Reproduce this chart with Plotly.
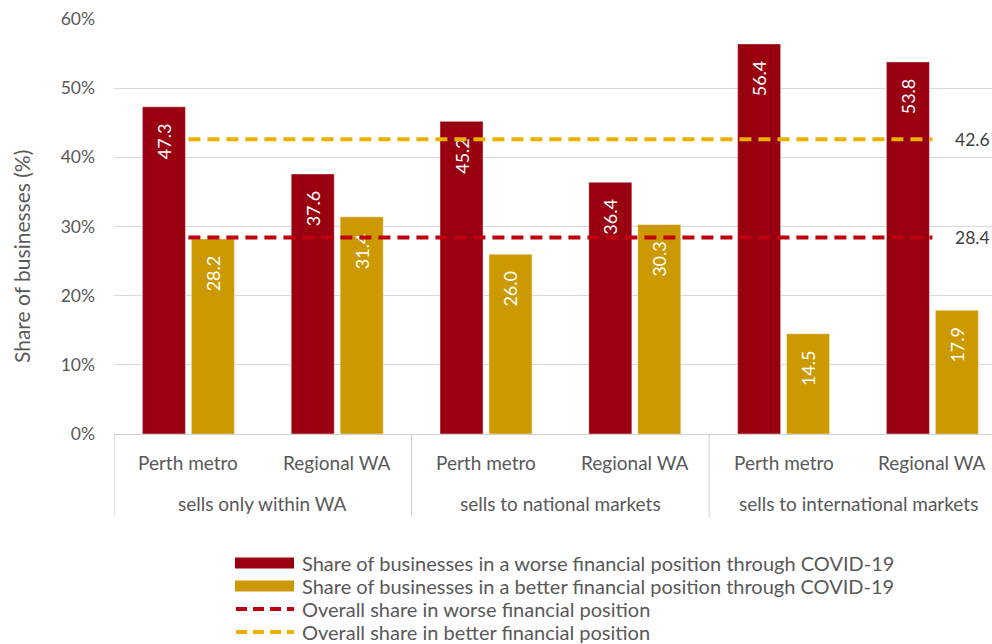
import plotly.graph_objects as go

groups = ["sells only within WA", "sells to national markets", "sells to international markets"]
regions = ["Perth metro", "Regional WA", "Perth metro", "Regional WA", "Perth metro", "Regional WA"]
worse = [47.3, 37.6, 45.2, 36.4, 56.4, 53.8]
better = [28.2, 31.4, 26.0, 30.3, 14.5, 17.9]
overall_worse = 28.4
overall_better = 42.6
y_ticks = [0, 10, 20, 30, 40, 50, 60]
y_title = "Share of businesses (%)"
legend_names = [
    "Share of businesses in a worse financial position through COVID-19",
    "Share of businesses in a better financial position through COVID-19",
    "Overall share in worse financial position",
    "Overall share in better financial position",
]

RED = "#990010"
GOLD = "#CC9A00"
RED_LINE = "#BE0010"
GOLD_LINE = "#EBB000"
TXT = "#595959"
FONT = "Lato"

W, H = 992, 644
L, T, B_PX = 114, 19, 434
PH = B_PX - T
PW = W - L
CAT = 148.8

def px_x(px):
    return (px - L) / PW

def px_y(py):
    return (B_PX - py) / PH

xs = list(range(len(regions)))
PAD = "\u00a0\u00a0\u00a0"

fig = go.Figure()
for vals, col, nm in ((worse, RED, legend_names[0]), (better, GOLD, legend_names[1])):
    fig.add_trace(go.Bar(x=xs, y=vals, name=nm, marker_color=col,
                         marker_line=dict(color="rgba(255,255,255,0.45)", width=1),
                         text=[f"{v:.1f}" + PAD for v in vals], textposition="inside",
                         insidetextanchor="end", textangle=-90,
                         textfont=dict(color="white", size=18, family=FONT),
                         constraintext="none", showlegend=False))
fig.add_trace(go.Scatter(x=[xs[0], xs[-1]], y=[overall_worse] * 2, mode="lines",
                         line=dict(color=RED_LINE, width=4, dash="12px,7px"),
                         name=legend_names[2], showlegend=False))
fig.add_trace(go.Scatter(x=[xs[0], xs[-1]], y=[overall_better] * 2, mode="lines",
                         line=dict(color=GOLD_LINE, width=4, dash="12px,7px"),
                         name=legend_names[3], showlegend=False))

shapes = []
annotations = []

# y axis title
annotations.append(dict(x=px_x(21), y=px_y(257), xref="paper", yref="paper", text=y_title,
                        textangle=-90, showarrow=False, xanchor="center", yanchor="middle",
                        font=dict(size=21, color=TXT, family=FONT)))

# line value labels
for v in (overall_better, overall_worse):
    annotations.append(dict(x=xs[-1], y=v, xref="x", yref="y", text=f"{v:.1f}",
                            showarrow=False, xanchor="left", yanchor="middle", xshift=21,
                            font=dict(size=17.5, color="#404040", family=FONT)))

# category labels
for i, r in enumerate(regions):
    annotations.append(dict(x=i, y=px_y(462), xref="x", yref="paper", text=r,
                            showarrow=False, yanchor="middle",
                            font=dict(size=19, color=TXT, family=FONT)))
for g, name in enumerate(groups):
    annotations.append(dict(x=2 * g + 0.5, y=px_y(503), xref="x", yref="paper", text=name,
                            showarrow=False, yanchor="middle",
                            font=dict(size=19, color=TXT, family=FONT)))
# separators
for sx in (-0.5, 1.5, 3.5, 5.5):
    shapes.append(dict(type="line", xref="x", yref="paper", x0=sx, x1=sx,
                       y0=0, y1=px_y(517), line=dict(color="#d0d0d0", width=1)))

# custom legend
rows = [563, 586, 609, 632]
for k, (name, py) in enumerate(zip(legend_names, rows)):
    if k < 2:
        shapes.append(dict(type="rect", xref="paper", yref="paper",
                           x0=px_x(235), x1=px_x(294), y0=px_y(py + 5.5), y1=px_y(py - 5.5),
                           fillcolor=[RED, GOLD][k], line=dict(width=0)))
    else:
        shapes.append(dict(type="line", xref="paper", yref="paper",
                           x0=px_x(236), x1=px_x(294), y0=px_y(py), y1=px_y(py),
                           line=dict(color=[RED_LINE, GOLD_LINE][k - 2], width=4, dash="11px,6px")))
    annotations.append(dict(x=px_x(300), y=px_y(py), xref="paper", yref="paper", text=name,
                            showarrow=False, xanchor="left", yanchor="middle",
                            font=dict(size=20, color=TXT, family=FONT)))

fig.update_layout(
    width=W, height=H,
    margin=dict(l=L, r=0, t=T, b=H - B_PX, pad=0),
    paper_bgcolor="white", plot_bgcolor="white",
    barmode="group", bargap=0.342, bargroupgap=0.12,
    showlegend=False,
    shapes=shapes, annotations=annotations,
    font=dict(family=FONT, color=TXT),
)
fig.update_xaxes(range=[-0.5, -0.5 + PW / CAT], showticklabels=False, showgrid=False,
                 zeroline=False, showline=True, linecolor="#d0d0d0", linewidth=1, ticks="")
fig.update_yaxes(range=[0, 60], tickvals=y_ticks, ticktext=[f"{t}%" for t in y_ticks],
                 showgrid=True, gridcolor="#d9d9d9", gridwidth=1, zeroline=False,
                 ticks="", ticklabelstandoff=18,
                 tickfont=dict(size=17.5, color=TXT, family=FONT))

fig.write_html("out.html")
